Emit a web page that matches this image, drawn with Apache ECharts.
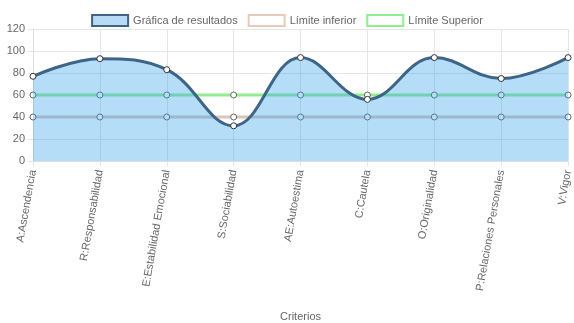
<!DOCTYPE html>
<html><head><meta charset="utf-8">
<script src="https://cdn.jsdelivr.net/npm/echarts@6/dist/echarts.min.js"></script>
<style>html,body{margin:0;padding:0;background:#fff}#c{width:574px;height:323px}</style>
</head><body><div id="c"></div>
<script>
var categories = ["A:Ascendencia","R:Responsabilidad","E:Estabilidad Emocional","S:Sociabilidad","AE:Autoestima","C:Cautela","O:Originalidad","P:Relaciones Personales","V:Vigor"];
var resultados = [77, 93, 83, 32, 94, 56, 94, 75, 94];
var limiteInferior = [40, 40, 40, 40, 40, 40, 40, 40, 40];
var limiteSuperior = [60, 60, 60, 60, 60, 60, 60, 60, 60];
var yTicks = {min: 0, max: 120, interval: 20};

var font = 'Helvetica, Arial, "Liberation Sans", sans-serif';
var chart = echarts.init(document.getElementById('c'), null, {renderer: 'canvas'});
chart.setOption({
  animation: false,
  textStyle: {fontFamily: font},
  legend: {
    top: 9, left: 'center', icon: 'rect', itemWidth: 36, itemHeight: 11, itemGap: 10,
    textStyle: {color: '#666', fontSize: 11, fontFamily: font, padding: [0, 0, 0, 0]},
    data: [
      {name: 'Gráfica de resultados', itemStyle: {color: '#b8daf5', borderColor: '#3e6487', borderWidth: 2}},
      {name: 'Límite inferior', itemStyle: {color: '#fff', borderColor: '#e8cabd', borderWidth: 2}},
      {name: 'Límite Superior', itemStyle: {color: '#fff', borderColor: '#90ee90', borderWidth: 2}}
    ]
  },
  grid: {left: 33, right: 4, top: 29, bottom: 162, containLabel: false},
  xAxis: {
    type: 'category', data: categories, boundaryGap: false,
    name: 'Criterios', nameLocation: 'middle', nameGap: 150,
    nameTextStyle: {color: '#666', fontSize: 11, fontFamily: font},
    axisLine: {lineStyle: {color: '#ddd'}},
    axisTick: {show: true, alignWithLabel: true, length: 5, lineStyle: {color: '#e5e5e5'}},
    splitLine: {show: true, lineStyle: {color: '#e5e5e5'}},
    axisLabel: {interval: 0, rotate: 80, color: '#666', fontSize: 11, margin: 9, fontFamily: font}
  },
  yAxis: {
    type: 'value', min: yTicks.min, max: yTicks.max, interval: yTicks.interval,
    axisLine: {show: true, lineStyle: {color: '#ddd'}},
    axisTick: {show: true, length: 5, lineStyle: {color: '#e5e5e5'}},
    splitLine: {lineStyle: {color: '#e5e5e5'}},
    axisLabel: {color: '#666', fontSize: 11, margin: 8, fontFamily: font}
  },
  series: [
    {
      name: 'Límite inferior', type: 'line', data: limiteInferior, z: 2,
      symbol: 'circle', symbolSize: 6,
      lineStyle: {color: '#dcc4bc', width: 3},
      itemStyle: {color: '#fff', borderColor: '#666', borderWidth: 1}
    },
    {
      name: 'Límite Superior', type: 'line', data: limiteSuperior, z: 2,
      symbol: 'circle', symbolSize: 6,
      lineStyle: {color: '#90ee90', width: 3},
      itemStyle: {color: '#fff', borderColor: '#666', borderWidth: 1}
    },
    {
      name: 'Gráfica de resultados', type: 'line', data: resultados, z: 4,
      smooth: 0.4, symbol: 'circle', symbolSize: 6,
      lineStyle: {color: '#3e6487', width: 3},
      itemStyle: {color: '#fff', borderColor: '#333', borderWidth: 1},
      areaStyle: {color: 'rgba(54,162,235,0.36)', opacity: 1}
    }
  ]
});
</script></body></html>
